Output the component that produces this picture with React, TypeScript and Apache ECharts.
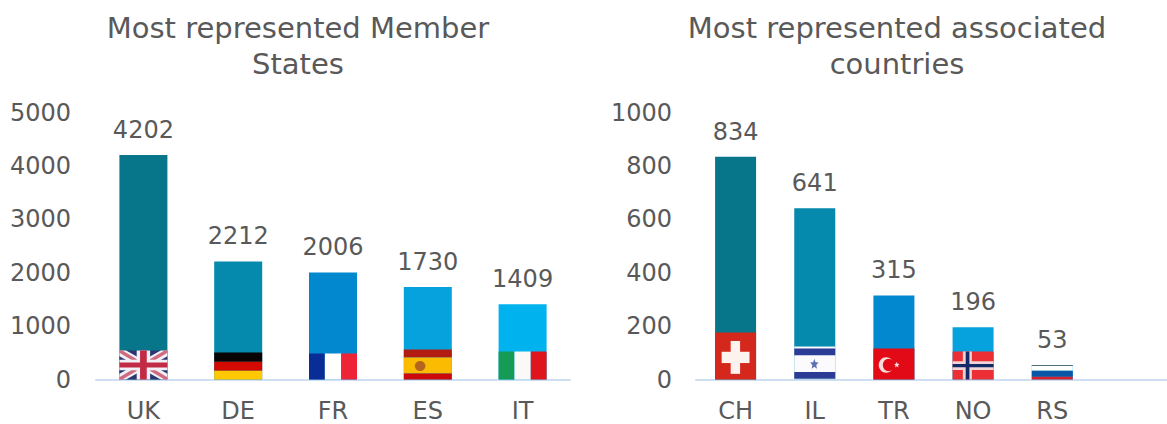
import React, { useEffect, useRef } from "react";
import * as echarts from "echarts";

const memberCategories = ["UK", "DE", "FR", "ES", "IT"];
const memberValues = [4202, 2212, 2006, 1730, 1409];
const memberFlagHeights = [543, 506, 487, 562, 524];
const memberColors = ["#07768a", "#0589ac", "#0288cf", "#06a2de", "#00b3ee"];

const assocCategories = ["CH", "IL", "TR", "NO", "RS", ""];
const assocValues = [834, 641, 315, 196, 53];
const assocFlagHeights = [176, 124, 116, 105, 53];
const assocColors = ["#07768a", "#0589ac", "#0288cf", "#06a2de", "#00b3ee"];

const memberTitle = "Most represented Member\nStates";
const assocTitle = "Most represented associated\ncountries";

const rect = (x: number, y: number, w: number, h: number, fill: string) => ({
  type: "rect",
  shape: { x, y, width: w, height: h },
  style: { fill },
});
const poly = (points: number[][], fill: string) => ({ type: "polygon", shape: { points }, style: { fill } });
const ell = (cx: number, cy: number, rx: number, ry: number, fill: string) => ({
  type: "ellipse",
  shape: { cx, cy, rx, ry },
  style: { fill },
});
const star = (cx: number, cy: number, rx: number, ry: number, fill: string) => {
  const pts: number[][] = [];
  for (let i = 0; i < 10; i++) {
    const a = -Math.PI / 2 + (i * Math.PI) / 5;
    const k = i % 2 === 0 ? 1 : 0.45;
    pts.push([cx + rx * k * Math.cos(a), cy + ry * k * Math.sin(a)]);
  }
  return poly(pts, fill);
};

const flags: Record<string, any[]> = {
  UK: [
    rect(0, 0, 100, 100, "#2b3670"),
    poly([[0, 0], [14, 0], [100, 80], [100, 100], [86, 100], [0, 20]], "#f0f1f6"),
    poly([[100, 0], [86, 0], [0, 80], [0, 100], [14, 100], [100, 20]], "#f0f1f6"),
    poly([[0, 0], [6, 0], [100, 92], [100, 100], [94, 100], [0, 8]], "#cf6a80"),
    poly([[100, 0], [94, 0], [0, 92], [0, 100], [6, 100], [100, 8]], "#cf6a80"),
    rect(36, 0, 28, 100, "#f0f1f6"),
    rect(0, 32, 100, 36, "#f0f1f6"),
    rect(43, 0, 14, 100, "#c22b45"),
    rect(0, 41, 100, 18, "#c22b45"),
  ],
  DE: [rect(0, 0, 100, 34, "#0a0505"), rect(0, 34, 100, 34, "#d20a00"), rect(0, 68, 100, 32, "#ffc800")],
  FR: [rect(0, 0, 33, 100, "#0a2c96"), rect(33, 0, 34, 100, "#ffffff"), rect(67, 0, 33, 100, "#ee2436")],
  ES: [
    rect(0, 0, 100, 27, "#b31c10"),
    rect(0, 27, 100, 53, "#fbbb00"),
    rect(0, 80, 100, 20, "#cc0a0a"),
    ell(34, 55, 11, 17, "#b5651d"),
  ],
  IT: [rect(0, 0, 33, 100, "#169b56"), rect(33, 0, 34, 100, "#fbf8f8"), rect(67, 0, 33, 100, "#e0141c")],
  CH: [rect(0, 0, 100, 100, "#d4281c"), rect(38, 18, 23, 70, "#fdf2ee"), rect(16, 41, 68, 24, "#fdf2ee")],
  IL: [
    rect(0, 0, 100, 100, "#fbfbfd"),
    rect(0, 6, 100, 21, "#2a3c96"),
    rect(0, 77, 100, 21, "#2a3c96"),
    star(49, 54, 11, 17, "#5c6fb4"),
  ],
  TR: [
    rect(0, 0, 100, 100, "#e30a17"),
    ell(31, 53, 18, 25, "#f8dede"),
    ell(37, 53, 14, 20, "#e30a17"),
    star(57, 53, 7, 10, "#f8dede"),
  ],
  NO: [
    rect(0, 0, 100, 100, "#ec2f35"),
    rect(25, 0, 22, 100, "#f0d4d8"),
    rect(0, 35, 100, 31, "#f0d4d8"),
    rect(32, 0, 9, 100, "#132a66"),
    rect(0, 45, 100, 11, "#132a66"),
  ],
  RS: [
    rect(0, 0, 100, 4, "#555555"),
    rect(0, 4, 100, 34, "#ffffff"),
    rect(0, 38, 100, 42, "#0a55a5"),
    rect(0, 80, 100, 20, "#d8202c"),
  ],
};

const flagRenderer = (codes: string[], barWidth: number) => (params: any, api: any) => {
  const idx = api.value(0);
  const top = api.coord([idx, api.value(1)]);
  const base = api.coord([idx, 0]);
  const h = base[1] - top[1];
  return {
    type: "group",
    x: top[0] - barWidth / 2,
    y: top[1],
    scaleX: barWidth / 100,
    scaleY: h / 100,
    children: flags[codes[params.dataIndex]],
  };
};

const TEXT = "#595959";
const FONT = "'DejaVu Sans', Verdana, sans-serif";

export default function App() {
  const ref = useRef<HTMLDivElement>(null);
  useEffect(() => {
    const chart = echarts.init(ref.current!, undefined, { renderer: "svg" });
    const xAxis = (gridIndex: number, data: string[]) => ({
      type: "category",
      gridIndex,
      data,
      axisLine: { lineStyle: { color: "#d0dff2", width: 2 } },
      axisTick: { show: false },
      axisLabel: { color: TEXT, fontSize: 24, fontFamily: FONT, margin: 19.5 },
    });
    const yAxis = (gridIndex: number, max: number, interval: number, margin: number) => ({
      type: "value",
      gridIndex,
      min: 0,
      max,
      interval,
      axisLine: { show: false },
      axisTick: { show: false },
      splitLine: { show: false },
      axisLabel: {
        color: TEXT,
        fontSize: 24,
        fontFamily: FONT,
        margin,
        formatter: (v: number) => String(v),
      },
    });
    const bars = (i: number, values: number[], colors: string[], barWidth: number) => ({
      type: "bar",
      xAxisIndex: i,
      yAxisIndex: i,
      barWidth,
      data: values.map((value, k) => ({ value, itemStyle: { color: colors[k] } })),
      label: { show: true, position: "top", distance: 13, color: TEXT, fontSize: 24, fontFamily: FONT },
    });
    const flagSeries = (i: number, heights: number[], codes: string[], barWidth: number) => ({
      type: "custom",
      xAxisIndex: i,
      yAxisIndex: i,
      z: 5,
      silent: true,
      clip: false,
      encode: { x: 0, y: 1 },
      data: heights.map((h, k) => [k, h]),
      renderItem: flagRenderer(codes, barWidth),
    });
    const title = (text: string, left: number) => ({
      text,
      left,
      top: 10,
      padding: 0,
      textAlign: "center",
      textStyle: { color: TEXT, fontSize: 29, fontWeight: "normal", fontFamily: FONT, lineHeight: 36 },
    });
    chart.setOption({
      animation: false,
      backgroundColor: "#ffffff",
      title: [title(memberTitle, 298), title(assocTitle, 897)],
      grid: [
        { left: 96, top: 112.5, width: 474, height: 267 },
        { left: 696, top: 112.5, width: 475, height: 267 },
      ],
      xAxis: [xAxis(0, memberCategories), xAxis(1, assocCategories)],
      yAxis: [yAxis(0, 5000, 1000, 25), yAxis(1, 1000, 200, 24)],
      series: [
        bars(0, memberValues, memberColors, 48),
        flagSeries(0, memberFlagHeights, memberCategories, 48),
        bars(1, assocValues, assocColors, 41),
        flagSeries(1, assocFlagHeights, assocCategories, 41),
      ],
    });
    return () => chart.dispose();
  }, []);
  return (
    <div style={{ position: "fixed", left: 0, top: 0, width: 1167, height: 424, overflow: "hidden", background: "#fff" }}>
      <div ref={ref} style={{ width: 1180, height: 424 }} />
    </div>
  );
}
